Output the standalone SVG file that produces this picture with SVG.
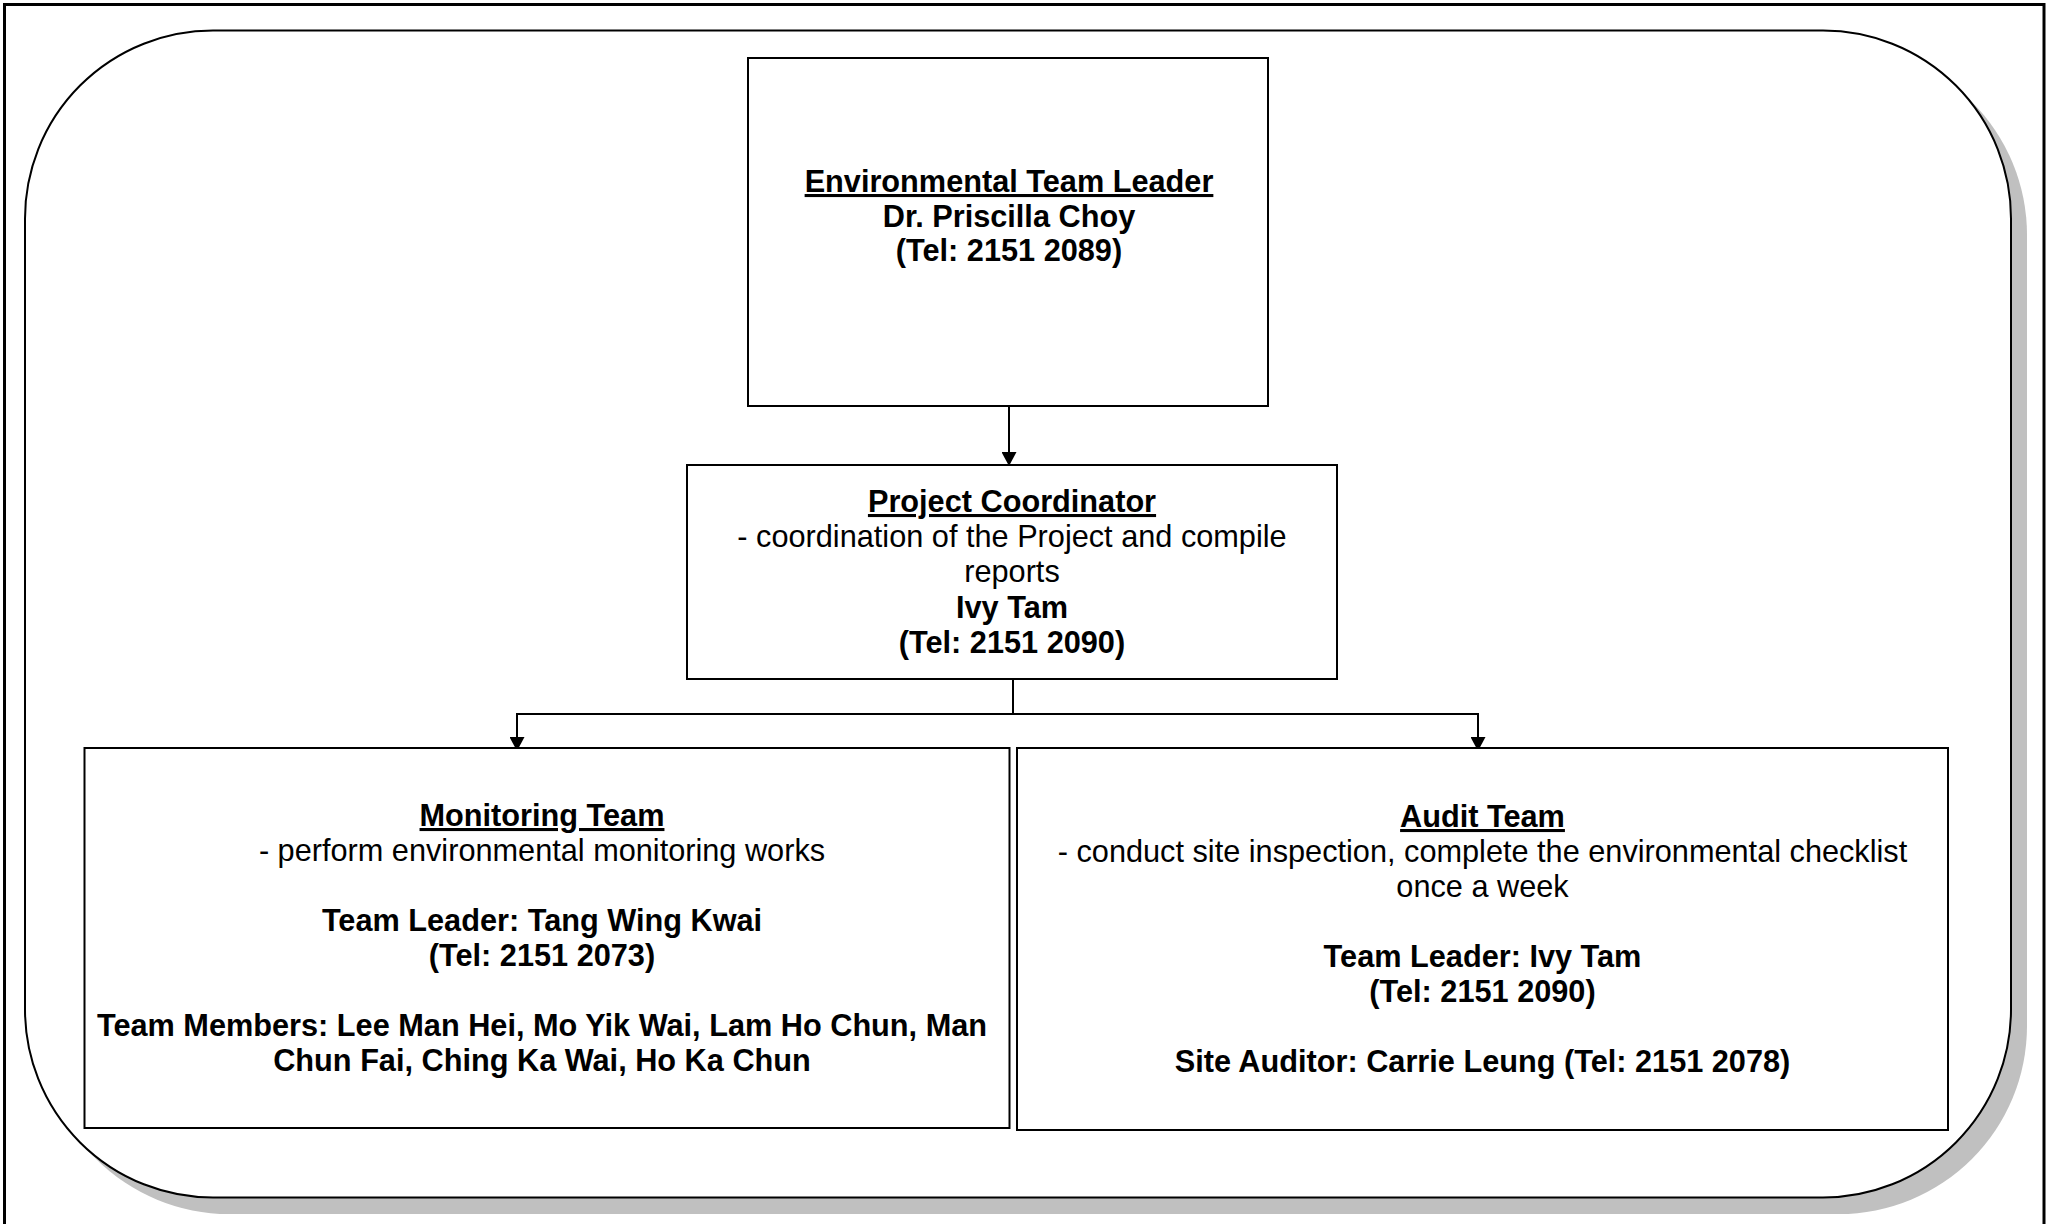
<svg xmlns="http://www.w3.org/2000/svg" width="2048" height="1224" viewBox="0 0 2048 1224">
<defs>
<style>
.box{fill:#fff;stroke:#000;stroke-width:2}
.t{font-family:"Liberation Sans",Arial,sans-serif;font-size:30.7px;text-anchor:middle;fill:#000}
.b{font-weight:bold}
.u{text-decoration:underline}
.c{fill:none;stroke:#000;stroke-width:2}
</style>
<marker id="ah" viewBox="0 0 14 15" refX="14" refY="7.5" markerWidth="14" markerHeight="15" markerUnits="userSpaceOnUse" orient="auto">
<path d="M0,0 L14,7.5 L0,15 z" fill="#000"/>
</marker>
</defs>
<rect x="0" y="0" width="2048" height="1224" fill="#fff"/>
<rect x="4.5" y="4.5" width="2039.5" height="1230" fill="none" stroke="#000" stroke-width="3"/>
<g id="frame">
<rect x="41" y="47" width="1986" height="1167" rx="188" ry="188" fill="#c0c0c0"/>
<rect x="25" y="30.5" width="1986" height="1167" rx="188" ry="188" fill="#fff" stroke="#000" stroke-width="2"/>
</g>
<g id="connectors">
<line class="c" x1="1009" y1="407" x2="1009" y2="466" marker-end="url(#ah)"/>
<polyline class="c" points="1013,679 1013,714"/>
<polyline class="c" points="517,714 1478,714 1478,751" marker-end="url(#ah)"/>
<line class="c" x1="517" y1="713" x2="517" y2="751" marker-end="url(#ah)"/>
</g>
<g id="team-leader">
<rect class="box" x="748" y="58" width="520" height="348"/>
<text class="t b" x="1009" y="192"><tspan class="u">Environmental Team Leader</tspan></text>
<text class="t b" x="1009" y="226.5">Dr. Priscilla Choy</text>
<text class="t b" x="1009" y="261">(Tel: 2151 2089)</text>
</g>
<g id="project-coordinator">
<rect class="box" x="687" y="465" width="650" height="214"/>
<text class="t b" x="1012" y="512"><tspan class="u">Project Coordinator</tspan></text>
<text class="t" x="1012" y="547">- coordination of the Project and compile</text>
<text class="t" x="1012" y="582">reports</text>
<text class="t b" x="1012" y="618">Ivy Tam</text>
<text class="t b" x="1012" y="653">(Tel: 2151 2090)</text>
</g>
<g id="monitoring-team">
<rect class="box" x="84.5" y="748" width="925" height="380"/>
<text class="t b" x="542" y="826"><tspan class="u">Monitoring Team</tspan></text>
<text class="t" x="542" y="861">- perform environmental monitoring works</text>
<text class="t b" x="542" y="931">Team Leader: Tang Wing Kwai</text>
<text class="t b" x="542" y="966">(Tel: 2151 2073)</text>
<text class="t b" x="542" y="1036">Team Members: Lee Man Hei, Mo Yik Wai, Lam Ho Chun, Man</text>
<text class="t b" x="542" y="1071">Chun Fai, Ching Ka Wai, Ho Ka Chun</text>
</g>
<g id="audit-team">
<rect class="box" x="1017" y="748" width="931" height="382"/>
<text class="t b" x="1482.5" y="827"><tspan class="u">Audit Team</tspan></text>
<text class="t" x="1482.5" y="862">- conduct site inspection, complete the environmental checklist</text>
<text class="t" x="1482.5" y="897">once a week</text>
<text class="t b" x="1482.5" y="967">Team Leader: Ivy Tam</text>
<text class="t b" x="1482.5" y="1002">(Tel: 2151 2090)</text>
<text class="t b" x="1482.5" y="1072">Site Auditor: Carrie Leung (Tel: 2151 2078)</text>
</g>
</svg>
